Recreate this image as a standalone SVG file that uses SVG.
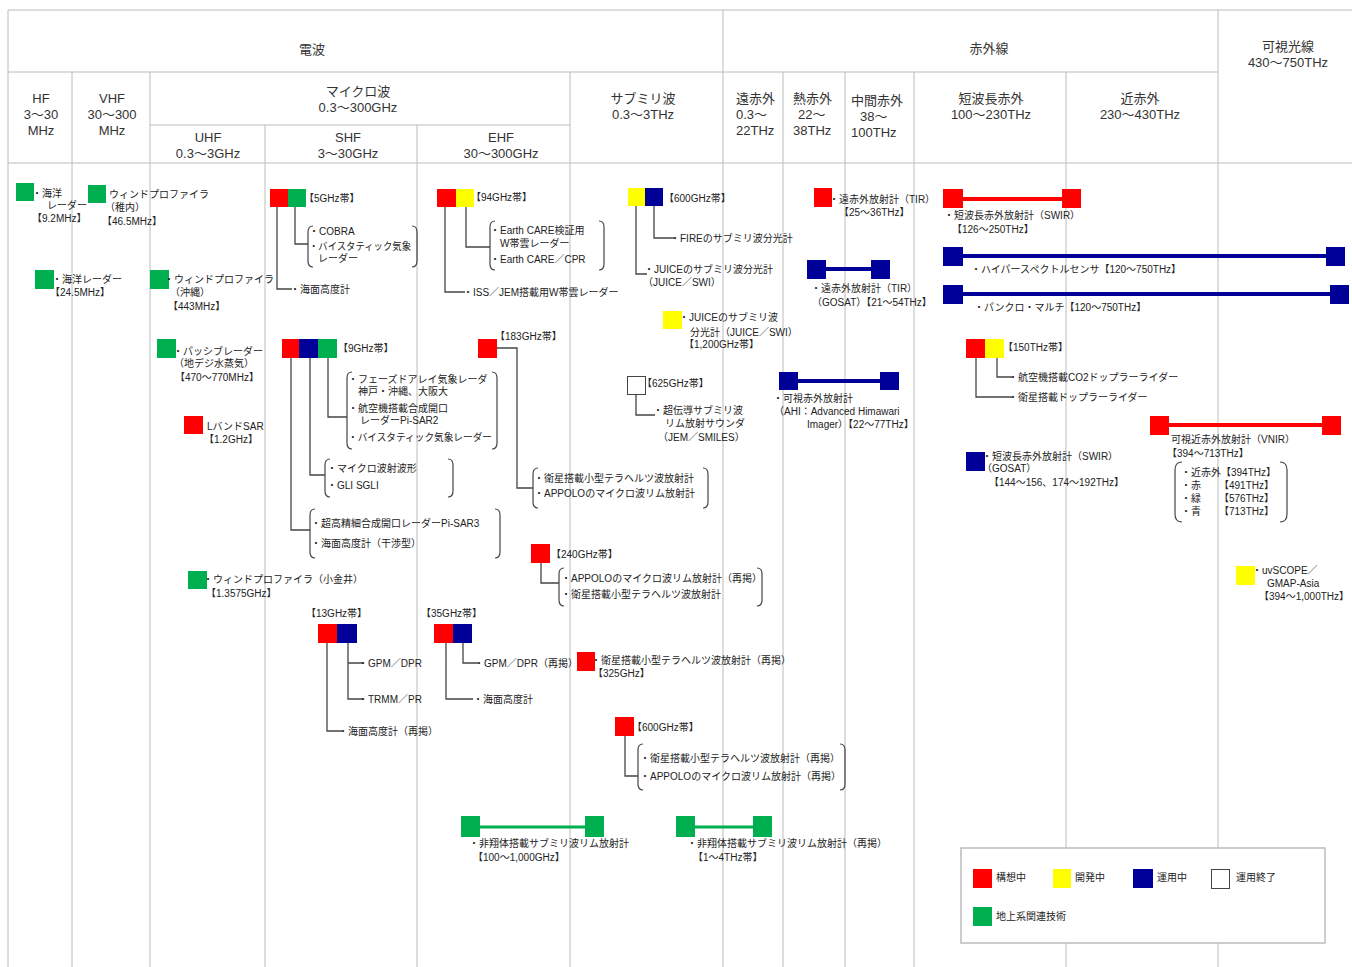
<svg xmlns="http://www.w3.org/2000/svg" width="1352" height="967" viewBox="0 0 1352 967">
<style>
.grid{stroke:#bcbcbc;stroke-width:1;fill:none}
.hd{font-family:"Liberation Sans","Noto Sans CJK JP",sans-serif;font-size:13px;fill:#333}
.t{font-family:"Liberation Sans","Noto Sans CJK JP",sans-serif;font-size:10px;fill:#222}
.mid{text-anchor:middle}
.r{fill:#FF0000}.y{fill:#FFFF00}.b{fill:#000099}.g{fill:#00B050}.w{fill:#fff;stroke:#444;stroke-width:1}
.cn{stroke:#444;stroke-width:1.3;fill:none}
.br{stroke:#444;stroke-width:1.2;fill:none}
.barR{stroke:#FF0000;stroke-width:4}.barB{stroke:#000099;stroke-width:4}.barG{stroke:#00B050;stroke-width:3}
</style>
<rect width="1352" height="967" fill="#fff"/>

<!-- spectrum table grid -->
<g id="grid">
<path class="grid" d="M8,10 H1352 M8,72 H1218 M150,125 H570 M8,163 H1352 M8,10 V967 M723,10 V967 M1218,10 V967 M72,72 V967 M150,72 V967 M570,72 V967 M783,72 V967 M845,72 V967 M914,72 V967 M1066,72 V967 M265,125 V967 M417,125 V967"/>
</g>

<!-- band headers -->
<g id="headers">
<text class="hd mid" x="312" y="54">電波</text>
<text class="hd mid" x="989" y="53">赤外線</text>
<text class="hd mid" x="1288" y="51">可視光線</text>
<text class="hd mid" x="1288" y="67">430〜750THz</text>
<text class="hd mid" x="41" y="103">HF</text>
<text class="hd mid" x="41" y="119">3〜30</text>
<text class="hd mid" x="41" y="135">MHz</text>
<text class="hd mid" x="112" y="103">VHF</text>
<text class="hd mid" x="112" y="119">30〜300</text>
<text class="hd mid" x="112" y="135">MHz</text>
<text class="hd mid" x="358" y="96">マイクロ波</text>
<text class="hd mid" x="358" y="112">0.3〜300GHz</text>
<text class="hd mid" x="208" y="142">UHF</text>
<text class="hd mid" x="208" y="158">0.3〜3GHz</text>
<text class="hd mid" x="348" y="142">SHF</text>
<text class="hd mid" x="348" y="158">3〜30GHz</text>
<text class="hd mid" x="501" y="142">EHF</text>
<text class="hd mid" x="501" y="158">30〜300GHz</text>
<text class="hd mid" x="643" y="103">サブミリ波</text>
<text class="hd mid" x="643" y="119">0.3〜3THz</text>
<text class="hd" x="736" y="103">遠赤外</text>
<text class="hd" x="736" y="119">0.3〜</text>
<text class="hd" x="736" y="135">22THz</text>
<text class="hd" x="793" y="103">熱赤外</text>
<text class="hd" x="798" y="119">22〜</text>
<text class="hd" x="793" y="135">38THz</text>
<text class="hd" x="851" y="105">中間赤外</text>
<text class="hd" x="860" y="121">38〜</text>
<text class="hd" x="851" y="137">100THz</text>
<text class="hd mid" x="991" y="103">短波長赤外</text>
<text class="hd mid" x="991" y="119">100〜230THz</text>
<text class="hd mid" x="1140" y="103">近赤外</text>
<text class="hd mid" x="1140" y="119">230〜430THz</text>
</g>

<!-- tree connectors and range bars -->
<g id="connectors">
<path class="cn" d="M277,207 V289 H292 M295,207 V244 H308"/>
<path class="cn" d="M445,207 V292 H465 M466,207 V247 H490"/>
<path class="cn" d="M328,358 V417 H347 M310,358 V475 H325 M291,358 V530 H310"/>
<path class="cn" d="M497,348 H517 V488 H533"/>
<path class="cn" d="M541,563 V583 H559"/>
<path class="cn" d="M625,736 V776 H638"/>
<path class="cn" d="M348,643 V699 H363 M348,663 H363 M327,643 V731 H342"/>
<path class="cn" d="M463,643 V663 H478 M446,643 V699 H473"/>
<path class="cn" d="M654,206 V238 H674 M636,206 V274 H647"/>
<path class="cn" d="M636,394 V415 H655"/>
<path class="cn" d="M997,358 V377 H1012 M976,358 V397 H1012"/>
<line class="barB" x1="826" y1="269" x2="871" y2="269"/>
<line class="barB" x1="798" y1="381" x2="880" y2="381"/>
<line class="barR" x1="963" y1="199" x2="1062" y2="199"/>
<line class="barB" x1="963" y1="256" x2="1326" y2="256"/>
<line class="barB" x1="963" y1="294" x2="1330" y2="294"/>
<line class="barR" x1="1169" y1="425" x2="1322" y2="425"/>
<line class="barG" x1="480" y1="827" x2="585" y2="827"/>
<line class="barG" x1="695" y1="827" x2="753" y2="827"/>
</g>

<g id="ocean-radar-9mhz">
<rect class="g" x="16" y="183" width="18" height="18"/>
<text class="t" x="32" y="197">・海洋</text>
<text class="t" x="47" y="209">レーダー</text>
<text class="t" x="32" y="222">【9.2MHz】</text>
</g>
<g id="wind-profiler-wakkanai">
<rect class="g" x="88" y="185" width="18" height="18"/>
<text class="t" x="109" y="198">ウィンドプロファイラ</text>
<text class="t" x="105" y="211">（稚内）</text>
<text class="t" x="102" y="225">【46.5MHz】</text>
</g>
<g id="ocean-radar-24mhz">
<rect class="g" x="35" y="270" width="19" height="19"/>
<text class="t" x="52" y="283">・海洋レーダー</text>
<text class="t" x="50" y="296">【24.5MHz】</text>
</g>
<g id="wind-profiler-okinawa">
<rect class="g" x="150" y="270" width="19" height="19"/>
<text class="t" x="164" y="283">・ウィンドプロファイラ</text>
<text class="t" x="170" y="296">（沖縄）</text>
<text class="t" x="168" y="310">【443MHz】</text>
</g>
<g id="passive-radar">
<rect class="g" x="157" y="339" width="19" height="19"/>
<text class="t" x="173" y="355">・パッシブレーダー</text>
<text class="t" x="174" y="367">（地デジ水蒸気）</text>
<text class="t" x="175" y="381">【470〜770MHz】</text>
</g>
<g id="l-band-sar">
<rect class="r" x="184" y="416" width="19" height="18"/>
<text class="t" x="207" y="430">LバンドSAR</text>
<text class="t" x="204" y="443">【1.2GHz】</text>
</g>
<g id="wind-profiler-koganei">
<rect class="g" x="188" y="571" width="19" height="18"/>
<text class="t" x="203" y="583">・ウィンドプロファイラ（小金井）</text>
<text class="t" x="206" y="597">【1.3575GHz】</text>
</g>

<g id="band-5ghz">
<rect class="r" x="270" y="189" width="18" height="18"/>
<rect class="g" x="288" y="189" width="18" height="18"/>
<text class="t" x="304" y="202">【5GHz帯】</text>
<path class="br" d="M313,226 Q308,226 308,232 V261 Q308,267 313,267 M412,226 Q417,226 417,232 V261 Q417,267 412,267"/>
<text class="t" x="309" y="235">・COBRA</text>
<text class="t" x="309" y="250" textLength="102" lengthAdjust="spacingAndGlyphs">・バイスタティック気象</text>
<text class="t" x="318" y="262">レーダー</text>
<text class="t" x="290" y="293">・海面高度計</text>
</g>
<g id="band-94ghz">
<rect class="r" x="437" y="189" width="19" height="18"/>
<rect class="y" x="456" y="189" width="18" height="18"/>
<text class="t" x="471" y="201">【94GHz帯】</text>
<path class="br" d="M495,221 Q490,221 490,227 V264 Q490,270 495,270 M599,221 Q604,221 604,227 V264 Q604,270 599,270"/>
<text class="t" x="490" y="234">・Earth CARE検証用</text>
<text class="t" x="500" y="247">W帯雲レーダー</text>
<text class="t" x="490" y="263">・Earth CARE／CPR</text>
<text class="t" x="463" y="296">・ISS／JEM搭載用W帯雲レーダー</text>
</g>
<g id="band-9ghz">
<rect class="r" x="282" y="339" width="17" height="19"/>
<rect class="b" x="299" y="339" width="19" height="19"/>
<rect class="g" x="318" y="339" width="19" height="19"/>
<text class="t" x="338" y="352">【9GHz帯】</text>
<path class="br" d="M352,372 Q347,372 347,378 V443 Q347,449 352,449 M492,372 Q497,372 497,378 V443 Q497,449 492,449"/>
<text class="t" x="348" y="383">・フェーズドアレイ気象レーダ</text>
<text class="t" x="358" y="395">神戸・沖縄、大阪大</text>
<text class="t" x="348" y="412">・航空機搭載合成開口</text>
<text class="t" x="360" y="424">レーダーPi-SAR2</text>
<text class="t" x="348" y="441" textLength="144" lengthAdjust="spacingAndGlyphs">・バイスタティック気象レーダー</text>
<path class="br" d="M330,459 Q325,459 325,465 V491 Q325,497 330,497 M448,459 Q453,459 453,465 V491 Q453,497 448,497"/>
<text class="t" x="327" y="472">・マイクロ波射波形</text>
<text class="t" x="327" y="489">・GLI SGLI</text>
<path class="br" d="M315,509 Q310,509 310,515 V552 Q310,558 315,558 M495,509 Q500,509 500,515 V552 Q500,558 495,558"/>
<text class="t" x="311" y="527">・超高精細合成開口レーダーPi-SAR3</text>
<text class="t" x="311" y="547">・海面高度計（干渉型）</text>
</g>
<g id="band-183ghz">
<rect class="r" x="478" y="339" width="19" height="19"/>
<text class="t" x="495" y="340">【183GHz帯】</text>
<path class="br" d="M538,468 Q533,468 533,474 V502 Q533,508 538,508 M703,468 Q708,468 708,474 V502 Q708,508 703,508"/>
<text class="t" x="534" y="482">・衛星搭載小型テラヘルツ波放射計</text>
<text class="t" x="534" y="497">・APPOLOのマイクロ波リム放射計</text>
</g>
<g id="band-240ghz">
<rect class="r" x="531" y="544" width="19" height="19"/>
<text class="t" x="551" y="558">【240GHz帯】</text>
<path class="br" d="M564,568 Q559,568 559,574 V600 Q559,606 564,606 M757,568 Q762,568 762,574 V600 Q762,606 757,606"/>
<text class="t" x="561" y="582">・APPOLOのマイクロ波リム放射計（再掲）</text>
<text class="t" x="561" y="598">・衛星搭載小型テラヘルツ波放射計</text>
</g>
<g id="band-325ghz">
<rect class="r" x="577" y="652" width="18" height="19"/>
<text class="t" x="591" y="664">・衛星搭載小型テラヘルツ波放射計（再掲）</text>
<text class="t" x="593" y="677">【325GHz】</text>
</g>
<g id="band-600ghz-thz">
<rect class="r" x="615" y="717" width="19" height="19"/>
<text class="t" x="632" y="731">【600GHz帯】</text>
<path class="br" d="M643,744 Q638,744 638,750 V784 Q638,790 643,790 M840,744 Q845,744 845,750 V784 Q845,790 840,790"/>
<text class="t" x="640" y="762">・衛星搭載小型テラヘルツ波放射計（再掲）</text>
<text class="t" x="640" y="780">・APPOLOのマイクロ波リム放射計（再掲）</text>
</g>
<g id="band-13ghz">
<text class="t" x="306" y="617">【13GHz帯】</text>
<rect class="r" x="318" y="624" width="19" height="19"/>
<rect class="b" x="337" y="624" width="20" height="19"/>
<text class="t" x="358" y="667">・GPM／DPR</text>
<text class="t" x="358" y="703">・TRMM／PR</text>
<text class="t" x="338" y="735">・海面高度計（再掲）</text>
</g>
<g id="band-35ghz">
<text class="t" x="421" y="617">【35GHz帯】</text>
<rect class="r" x="434" y="624" width="19" height="19"/>
<rect class="b" x="453" y="624" width="19" height="19"/>
<text class="t" x="474" y="667">・GPM／DPR（再掲）</text>
<text class="t" x="473" y="703">・海面高度計</text>
</g>
<g id="band-600ghz-submm">
<rect class="y" x="628" y="188" width="17" height="18"/>
<rect class="b" x="645" y="188" width="18" height="18"/>
<text class="t" x="664" y="202">【600GHz帯】</text>
<text class="t" x="670" y="242">・FIREのサブミリ波分光計</text>
<text class="t" x="644" y="273">・JUICEのサブミリ波分光計</text>
<text class="t" x="643" y="286">（JUICE／SWI）</text>
</g>
<g id="juice-1200ghz">
<rect class="y" x="663" y="311" width="19" height="18"/>
<text class="t" x="679" y="321">・JUICEのサブミリ波</text>
<text class="t" x="690" y="336">分光計（JUICE／SWI）</text>
<text class="t" x="684" y="348">【1,200GHz帯】</text>
</g>
<g id="band-625ghz">
<rect class="w" x="627.5" y="376.5" width="18" height="18"/>
<text class="t" x="642" y="387">【625GHz帯】</text>
<text class="t" x="653" y="414">・超伝導サブミリ波</text>
<text class="t" x="665" y="427">リム放射サウンダ</text>
<text class="t" x="658" y="441">（JEM／SMILES）</text>
</g>
<g id="tir-far-ir">
<rect class="r" x="814" y="188" width="18" height="19"/>
<text class="t" x="829" y="203">・遠赤外放射計（TIR）</text>
<text class="t" x="839" y="216">【25〜36THz】</text>
</g>
<g id="tir-gosat">
<rect class="b" x="807" y="260" width="19" height="19"/>
<rect class="b" x="871" y="260" width="19" height="19"/>
<text class="t" x="811" y="292">・遠赤外放射計（TIR）</text>
<text class="t" x="812" y="306">（GOSAT）【21〜54THz】</text>
</g>
<g id="ahi">
<rect class="b" x="779" y="372" width="19" height="18"/>
<rect class="b" x="880" y="372" width="19" height="18"/>
<text class="t" x="773" y="402">・可視赤外放射計</text>
<text class="t" x="774" y="415">（AHI：Advanced Himawari</text>
<text class="t" x="807" y="428">Imager）【22〜77THz】</text>
</g>
<g id="swir">
<rect class="r" x="943" y="189" width="20" height="19"/>
<rect class="r" x="1062" y="189" width="19" height="19"/>
<text class="t" x="944" y="219">・短波長赤外放射計（SWIR）</text>
<text class="t" x="952" y="233">【126〜250THz】</text>
</g>
<g id="hyperspectral">
<rect class="b" x="943" y="247" width="20" height="19"/>
<rect class="b" x="1326" y="247" width="19" height="19"/>
<text class="t" x="971" y="273">・ハイパースペクトルセンサ【120〜750THz】</text>
</g>
<g id="panchro-multi">
<rect class="b" x="943" y="285" width="20" height="19"/>
<rect class="b" x="1330" y="285" width="19" height="19"/>
<text class="t" x="974" y="311">・パンクロ・マルチ【120〜750THz】</text>
</g>
<g id="band-150thz">
<rect class="r" x="966" y="339" width="19" height="19"/>
<rect class="y" x="985" y="339" width="19" height="19"/>
<text class="t" x="1003" y="351">【150THz帯】</text>
<text class="t" x="1008" y="381">・航空機搭載CO2ドップラーライダー</text>
<text class="t" x="1008" y="401">・衛星搭載ドップラーライダー</text>
</g>
<g id="vnir">
<rect class="r" x="1150" y="416" width="19" height="19"/>
<rect class="r" x="1322" y="416" width="19" height="19"/>
<text class="t" x="1171" y="443">可視近赤外放射計（VNIR）</text>
<text class="t" x="1167" y="457">【394〜713THz】</text>
<path class="br" d="M1182,462 Q1175,462 1175,470 V514 Q1175,522 1182,522 M1280,462 Q1287,462 1287,470 V514 Q1287,522 1280,522"/>
<text class="t" x="1181" y="476">・近赤外【394THz】</text>
<text class="t" x="1181" y="489">・赤</text>
<text class="t" x="1219" y="489">【491THz】</text>
<text class="t" x="1181" y="502">・緑</text>
<text class="t" x="1219" y="502">【576THz】</text>
<text class="t" x="1181" y="515">・青</text>
<text class="t" x="1219" y="515">【713THz】</text>
</g>
<g id="swir-gosat">
<rect class="b" x="966" y="452" width="19" height="19"/>
<text class="t" x="982" y="460">・短波長赤外放射計（SWIR）</text>
<text class="t" x="982" y="472">（GOSAT）</text>
<text class="t" x="989" y="486">【144〜156、174〜192THz】</text>
</g>
<g id="uvscope">
<rect class="y" x="1236" y="566" width="19" height="19"/>
<text class="t" x="1252" y="574">・uvSCOPE／</text>
<text class="t" x="1267" y="587">GMAP-Asia</text>
<text class="t" x="1259" y="600">【394〜1,000THz】</text>
</g>
<g id="limb-sounder-submm">
<rect class="g" x="461" y="816" width="19" height="21"/>
<rect class="g" x="585" y="816" width="19" height="21"/>
<text class="t" x="469" y="847">・非翔体搭載サブミリ波リム放射計</text>
<text class="t" x="473" y="861">【100〜1,000GHz】</text>
</g>
<g id="limb-sounder-thz">
<rect class="g" x="676" y="816" width="19" height="21"/>
<rect class="g" x="753" y="816" width="19" height="21"/>
<text class="t" x="687" y="847">・非翔体搭載サブミリ波リム放射計（再掲）</text>
<text class="t" x="693" y="861">【1〜4THz帯】</text>
</g>

<!-- status legend -->
<g id="legend">
<rect x="961" y="848" width="364" height="95" fill="#fff" stroke="#bcbcbc" stroke-width="1.5"/>
<rect class="r" x="973" y="869" width="19" height="19"/>
<text class="t" x="996" y="881">構想中</text>
<rect class="y" x="1053" y="869" width="18" height="19"/>
<text class="t" x="1075" y="881">開発中</text>
<rect class="b" x="1133" y="869" width="20" height="19"/>
<text class="t" x="1157" y="881">運用中</text>
<rect class="w" x="1211.5" y="869.5" width="18" height="19"/>
<text class="t" x="1236" y="881">運用終了</text>
<rect class="g" x="973" y="907" width="19" height="19"/>
<text class="t" x="996" y="920">地上系関連技術</text>
</g>
</svg>
